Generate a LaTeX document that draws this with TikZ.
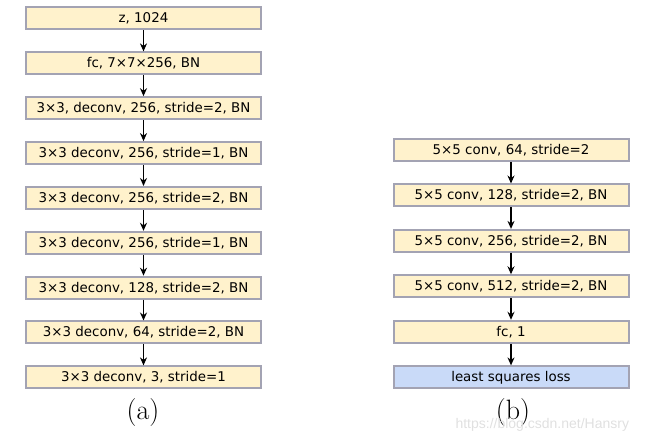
\documentclass[tikz,border=0pt]{standalone}
\usepackage{fontspec}
\setmainfont{Latin Modern Roman}
\newfontfamily\boxfont{DejaVu Sans}
\newfontfamily\wmfont{Liberation Sans}
\usetikzlibrary{arrows.meta}
\definecolor{boxfill}{HTML}{FFF2CC}
\definecolor{lossfill}{HTML}{C9DAF8}
\definecolor{boxline}{HTML}{A3A3B3}
\begin{document}
\begin{tikzpicture}[x=1pt,y=1pt,
  layer/.style={draw=boxline, line width=2pt, fill=boxfill, minimum width=235pt, minimum height=22pt,
    inner sep=0pt, font=\boxfont\fontsize{13.4}{14}\selectfont},
  lossbox/.style={layer, fill=lossfill},
  flow/.style={-{Stealth[length=8pt,width=7pt]}, line width=1.5pt, black},
  sublabel/.style={font=\fontsize{28}{32}\selectfont}]
\useasboundingbox (0,0) rectangle (656,-443);
% generator (a)
\node[layer] (a1) at (143.5,-18.5) {z, 1024};
\node[layer] (a2) at (143.5,-63.4) {fc, 7×7×256, BN};
\node[layer] (a3) at (143.5,-108.2) {3×3, deconv, 256, stride=2, BN};
\node[layer] (a4) at (143.5,-153.1) {3×3 deconv, 256, stride=1, BN};
\node[layer] (a5) at (143.5,-198.0) {3×3 deconv, 256, stride=2, BN};
\node[layer] (a6) at (143.5,-242.8) {3×3 deconv, 256, stride=1, BN};
\node[layer] (a7) at (143.5,-287.7) {3×3 deconv, 128, stride=2, BN};
\node[layer] (a8) at (143.5,-332.5) {3×3 deconv, 64, stride=2, BN};
\node[layer] (a9) at (143.5,-377.4) {3×3 deconv, 3, stride=1};
\foreach \i/\j in {a1/a2,a2/a3,a3/a4,a4/a5,a5/a6,a6/a7,a7/a8,a8/a9}
  \draw[flow] (\i.south) -- (\j.north);
\node[sublabel] (la) at (143,-413) {(a)};
% discriminator (b)
\node[layer] (b1) at (511,-150) {5×5 conv, 64, stride=2};
\node[layer] (b2) at (511,-195.5) {5×5 conv, 128, stride=2, BN};
\node[layer] (b3) at (511,-240.9) {5×5 conv, 256, stride=2, BN};
\node[layer] (b4) at (511,-286.3) {5×5 conv, 512, stride=2, BN};
\node[layer] (b5) at (511,-331.8) {fc, 1};
\node[lossbox] (b6) at (511,-377.4) {least squares loss};
\foreach \i/\j in {b1/b2,b2/b3,b3/b4,b4/b5,b5/b6}
  \draw[flow] (\i.south) -- (\j.north);
\node[sublabel] (lb) at (513,-413) {(b)};
\node[font=\wmfont\fontsize{14}{16}\selectfont, text=black!12, anchor=west] (wm) at (452,-425) {https://blog.csdn.net/Hansry};
\end{tikzpicture}
\end{document}
